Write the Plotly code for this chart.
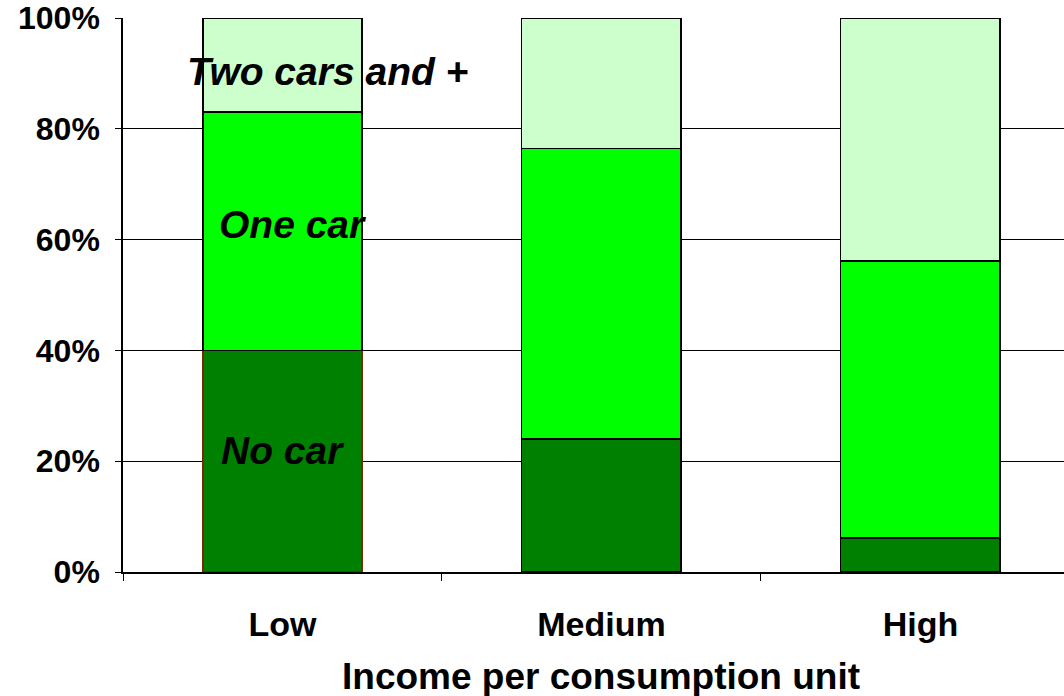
import plotly.graph_objects as go

# Car ownership share (%) by income group
categories = ["Low", "Medium", "High"]
no_car = [40.0, 24.0, 6.1]
one_car = [43.0, 52.4, 50.0]
two_cars = [17.0, 23.6, 43.9]

series_names = ["No car", "One car", "Two cars and +"]
series_colors = ["#008000", "#00FF00", "#CCFFCC"]

FONT = "Liberation Sans, Arial, Helvetica, sans-serif"

fig = go.Figure()
for name, vals, col in zip(series_names, [no_car, one_car, two_cars], series_colors):
    line_cols = ["#7a2a00", "black", "black"] if name == "No car" else ["black"] * 3
    fig.add_trace(go.Bar(
        x=categories, y=vals, name=name,
        marker=dict(color=col, line=dict(color=line_cols, width=1.5)),
        width=0.5,
    ))

# in-bar series labels placed on the Low column
label_pos = {
    "No car": (0.0, no_car[0] / 2 + 2),
    "One car": (0.03, no_car[0] + one_car[0] * 0.53),
    "Two cars and +": (0.14, no_car[0] + one_car[0] + two_cars[0] * 0.43),
}
for name, (lx, ly) in label_pos.items():
    fig.add_annotation(
        x=lx, y=ly, xref="x", yref="y", text=name, showarrow=False,
        font=dict(family=FONT, size=39, color="black", weight="bold", style="italic"),
        xanchor="center", yanchor="middle",
    )

# axis title centred on the middle category
fig.add_annotation(
    x=1, y=-0.188, xref="x", yref="paper", text="Income per consumption unit",
    showarrow=False, font=dict(family=FONT, size=37, color="black", weight="bold"),
    xanchor="center", yanchor="middle",
)

fig.update_layout(
    barmode="stack",
    width=1064, height=696,
    margin=dict(l=123, r=0, t=18, b=124),
    paper_bgcolor="white", plot_bgcolor="white",
    showlegend=False,
    bargap=0.5,
)
fig.update_xaxes(
    type="category", range=[-0.5, 2.45],
    showline=True, linecolor="black", linewidth=1.5,
    ticks="outside", ticklen=7, tickcolor="black", tickwidth=1,
    tickson="boundaries", showgrid=False,
    tickfont=dict(family=FONT, size=34, color="black", weight="bold"),
    ticklabelstandoff=21,
)
fig.update_yaxes(
    range=[0, 100], dtick=20, ticksuffix="%",
    showline=True, linecolor="black", linewidth=1.5,
    ticks="outside", ticklen=6, tickcolor="black", tickwidth=1,
    showgrid=True, gridcolor="black", gridwidth=1,
    zeroline=False,
    tickfont=dict(family=FONT, size=32, color="black", weight="bold"),
    ticklabelstandoff=9,
)

fig.write_html("out.html")
